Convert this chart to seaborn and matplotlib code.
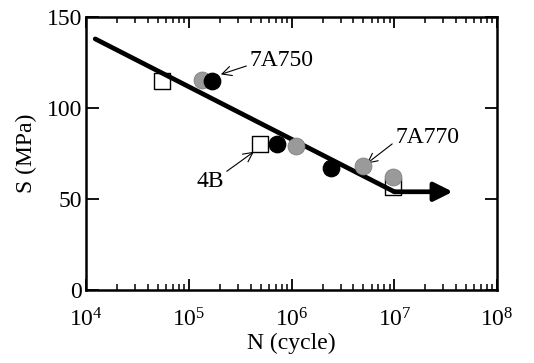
# S-N curve: stress amplitude vs cycles to failure for 4B, 7A750 and 7A770
import numpy as np
import pandas as pd
import matplotlib
matplotlib.use("Agg")
import matplotlib.pyplot as plt
import seaborn as sns

# open squares (4B)
n_4b = [5.5e4, 4.9e5, 9.8e6]
s_4b = [114.7, 80.0, 56.7]
# black circles (7A750)
n_7a750 = [1.7e5, 7.2e5, 2.4e6]
s_7a750 = [114.7, 80.0, 66.8]
# gray circles (7A770)
n_7a770 = [1.34e5, 1.1e6, 4.9e6, 9.8e6]
s_7a770 = [115.2, 79.2, 68.2, 62.2]

# fitted S-N line and run-out arrow
line_n = [1.23e4, 1.0e7]
line_s = [138.0, 54.0]
runout_tip = 3.7e7

xticks = [1e4, 1e5, 1e6, 1e7, 1e8]
yticks = [0, 50, 100, 150]

sns.set_theme(style="ticks", rc={"text.color": "black", "axes.labelcolor": "black",
                                 "xtick.color": "black", "ytick.color": "black"})
plt.rcParams["font.family"] = ["Liberation Serif", "DejaVu Serif"]
plt.rcParams["mathtext.fontset"] = "stix"

df = pd.concat([
    pd.DataFrame({"N": n_4b, "S": s_4b, "mat": "4B"}),
    pd.DataFrame({"N": n_7a750, "S": s_7a750, "mat": "7A750"}),
    pd.DataFrame({"N": n_7a770, "S": s_7a770, "mat": "7A770"}),
])
line_df = pd.DataFrame({"N": line_n, "S": line_s})

fig = plt.figure(figsize=(5.34, 3.63), dpi=100)
ax = fig.add_axes([0.161, 0.201, 0.770, 0.752])
ax.set_xscale("log")

sns.scatterplot(data=df[df.mat == "4B"], x="N", y="S", marker="s", s=130,
                facecolor="white", edgecolor="black", linewidth=1.0, ax=ax, zorder=2)
sns.lineplot(data=line_df, x="N", y="S", color="black", lw=3.4, ax=ax, zorder=3)
sns.scatterplot(data=df[df.mat == "7A770"], x="N", y="S", marker="o", s=150,
                color="#9a9a9a", edgecolor="#7a7a7a", linewidth=0.5, ax=ax, zorder=4)
sns.scatterplot(data=df[df.mat == "7A750"], x="N", y="S", marker="o", s=140,
                color="black", edgecolor="black", ax=ax, zorder=5)

# run-out arrow
ax.annotate("", xy=(runout_tip, line_s[-1]), xytext=(line_n[-1], line_s[-1]),
            arrowprops=dict(arrowstyle="-|>", lw=3.4, color="black",
                            mutation_scale=28, shrinkA=0, shrinkB=0), zorder=3)

# labels with thin arrows
arr = dict(arrowstyle="->", lw=0.8, color="black", shrinkA=0, shrinkB=0)
ax.annotate("7A750", xy=(2.05e5, 118.5), xytext=(8.0e5, 126), fontsize=17,
            ha="center", va="center", arrowprops=dict(arr, relpos=(0, 0.3)))
ax.annotate("7A770", xy=(5.4e6, 69.5), xytext=(2.1e7, 84), fontsize=17,
            ha="center", va="center", arrowprops=dict(arr, relpos=(0, 0.3)))
ax.annotate("4B", xy=(4.3e5, 76), xytext=(1.6e5, 59.4), fontsize=17,
            ha="center", va="center", arrowprops=dict(arr, relpos=(0.9, 0.8)))

ax.set_xlim(xticks[0], xticks[-1])
ax.set_ylim(yticks[0], yticks[-1])
ax.set_xticks(xticks)
ax.set_yticks(yticks)
ax.set_xlabel("N (cycle)", fontsize=17, labelpad=1)
ax.set_ylabel("S (MPa)", fontsize=17, labelpad=7)

ax.tick_params(axis="both", which="both", direction="in", top=True, right=True,
               labelsize=17, width=1.3, colors="black", pad=3)
ax.tick_params(axis="x", which="major", length=8, pad=13)
ax.tick_params(axis="x", which="minor", length=4, width=1.1)
ax.tick_params(axis="y", which="major", length=9)
for sp in ax.spines.values():
    sp.set_linewidth(1.8)
    sp.set_color("black")
ax.grid(False)

plt.savefig("out.png", dpi=100)
plt.close()
